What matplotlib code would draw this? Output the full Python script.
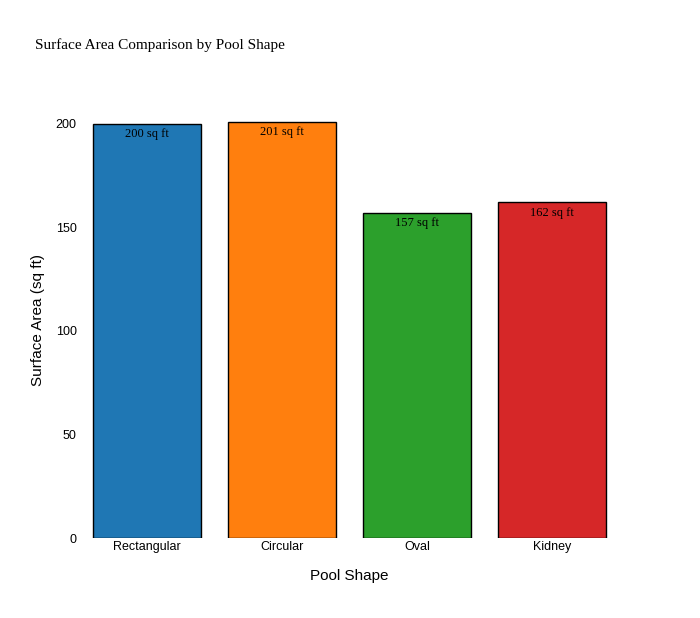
import matplotlib
matplotlib.use('Agg')
import matplotlib.pyplot as plt

shapes = ['Rectangular', 'Circular', 'Oval', 'Kidney']
areas = [200, 201.06, 157.08, 162]
colors = ['#1f77b4', '#ff7f0e', '#2ca02c', '#d62728']

fig = plt.figure(figsize=(7, 6.18), dpi=100)
ax = fig.add_axes([0.1136, 0.1294, 0.7714, 0.7072])

bars = ax.bar(shapes, areas, width=0.8, color=colors, edgecolor='black', linewidth=1)

for b, a in zip(bars, areas):
    ax.text(b.get_x() + b.get_width() / 2, a - 2, f'{a:.0f} sq ft',
            ha='center', va='top', family='Liberation Serif', fontsize=9)

ax.set_xlim(-0.5, 3.5)
ax.set_ylim(0, 211)
ax.set_yticks([0, 50, 100, 150, 200])
for s in ax.spines.values():
    s.set_visible(False)
ax.tick_params(length=0, labelsize=9, pad=2)
for lab in ax.get_xticklabels() + ax.get_yticklabels():
    lab.set_family('Liberation Sans')

ax.set_xlabel('Pool Shape', family='Liberation Sans', fontsize=11, labelpad=12)
ax.set_ylabel('Surface Area (sq ft)', family='Liberation Sans', fontsize=11, labelpad=8)

fig.text(0.05, 0.927, 'Surface Area Comparison by Pool Shape', family='Liberation Serif',
         fontsize=11, ha='left', va='center')

fig.savefig('out.png', dpi=100)
